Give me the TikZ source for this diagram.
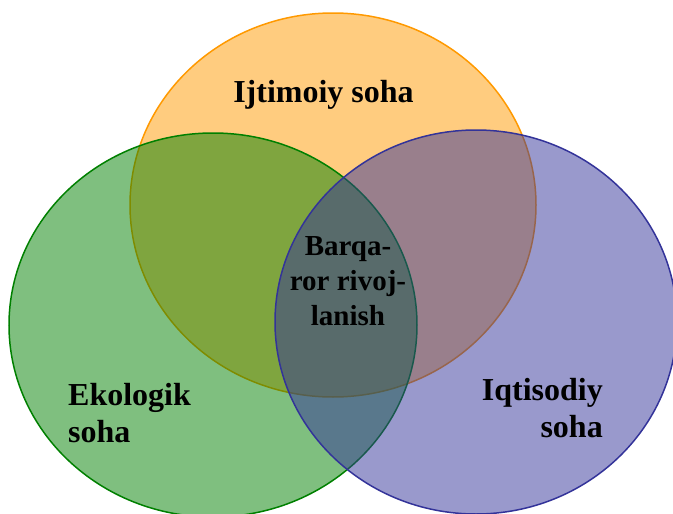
\documentclass[tikz,border=0pt]{standalone}
\usepackage{fontspec}
\setmainfont{Liberation Serif}
\usetikzlibrary{shapes.geometric}
\definecolor{orng}{HTML}{FF9900}
\definecolor{grn}{HTML}{008000}
\definecolor{blu}{HTML}{333399}
\tikzset{
  setbox/.style={ellipse, inner sep=0pt, line width=1.5pt, fill opacity=0.5, draw opacity=1},
  lbl/.style={font=\fontsize{32}{37}\selectfont\bfseries, inner sep=0pt, text=black}
}
\begin{document}
\begin{tikzpicture}[x=1pt,y=-1pt]
\useasboundingbox (0,0) rectangle (673,514);
\clip (0,0) rectangle (673,514);
\node[setbox, draw=orng, fill=orng, minimum width=406pt, minimum height=384pt] (soc) at (333,205) {};
\node[setbox, draw=grn, fill=grn, minimum width=408pt, minimum height=384pt] (eco) at (213,325) {};
\node[setbox, draw=blu, fill=blu, minimum width=402pt, minimum height=384pt] (eco2) at (476,322) {};
\node[lbl, anchor=base] (t1) at (323.5,102) {Ijtimoiy soha};
\node[lbl, anchor=base west, align=left] (t2) at (68,442) {Ekologik\\soha};
\node[lbl, anchor=base east, align=right] (t3) at (603,437) {Iqtisodiy\\soha};
\node[lbl, anchor=base, align=center, font=\fontsize{29}{35}\selectfont\bfseries] (t4) at (348,325) {Barqa-\\ror rivoj-\\lanish};
\end{tikzpicture}
\end{document}
